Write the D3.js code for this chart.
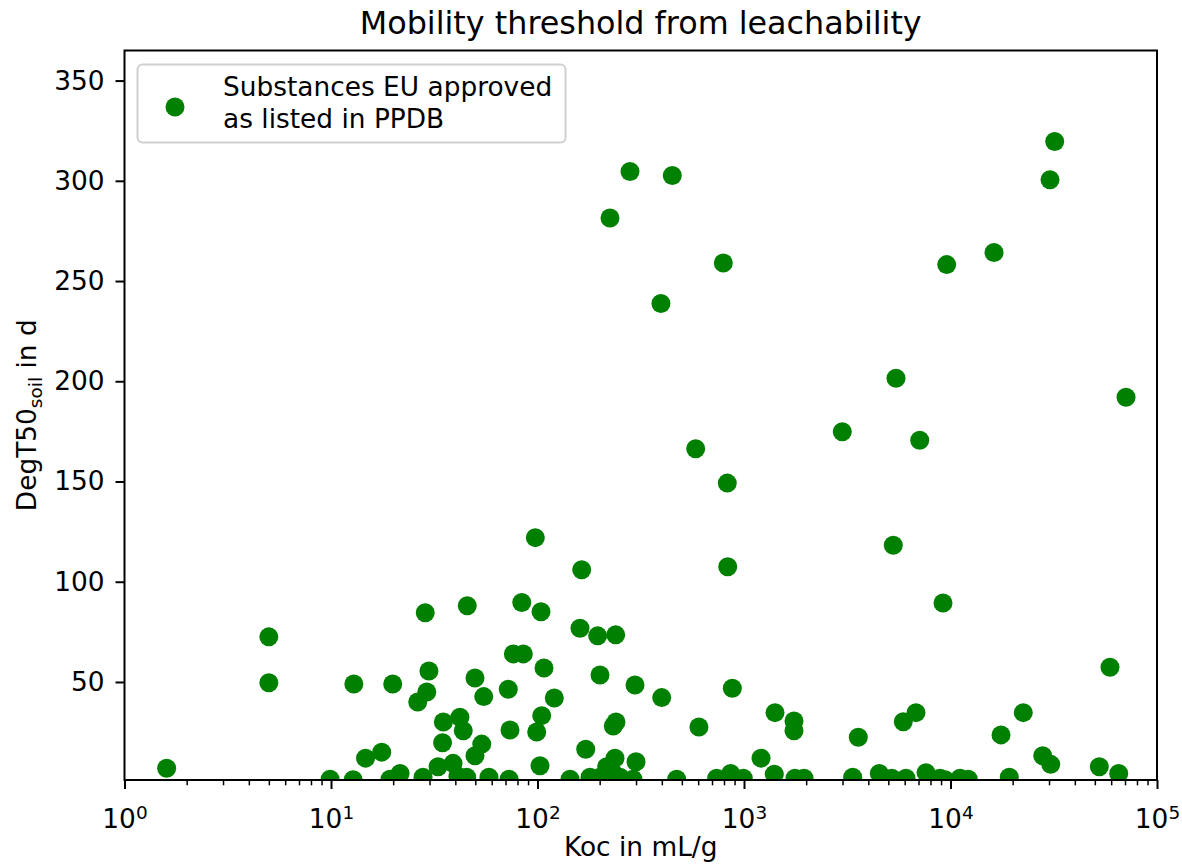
<!DOCTYPE html>
<html>
<head>
<meta charset="utf-8">
<script src="https://cdn.jsdelivr.net/npm/d3@7"></script>
<style>
  body { margin: 0; background: #fff; }
  text { font-family: "DejaVu Sans", sans-serif; fill: #000; }
</style>
</head>
<body>
<div id="vis-holder"></div>
<script>
// Koc (mL/g) and DegT50 soil (d)
const koc = [1.6, 5, 5, 9.9, 12.9, 12.8, 14.7, 17.6, 19.9, 19.3, 21.6, 26.3, 27.9, 28.6, 29.1, 29.8,
  33, 35, 34.7, 39, 41.2, 42.1, 43.7, 45.4, 45.7, 49.8, 49.8, 53.7, 54.9, 58.2, 72.2, 72.8, 73.6,
  76.4, 83.9, 85.4, 97.6, 99.1, 104, 104.8, 102.8, 107.5, 120.6, 143.7, 160.6, 163.7, 171.2, 179.6,
  195.6, 200.7, 200.7, 216.3, 232, 224.4, 232.8, 239.9, 237.3, 239.2, 250.9, 280.5, 290, 296.6, 300,
  396, 399.5, 449.6, 472, 583.5, 605, 737.5, 794, 830, 834, 862, 878, 992, 1209, 1402, 1413, 1746,
  1746, 1766, 1953, 2992, 3360, 3577, 4521, 5192, 5284, 5446, 5906, 6087, 6807, 7096, 7610, 8895,
  9198, 9585, 9407, 11118, 12195, 16245, 17565, 19265, 22513, 27960, 30330, 30570, 31960, 52560,
  59200, 65240, 70790];
const degT50 = [7, 72.5, 49.6, 1.5, 49, 1.2, 12, 15, 49, 1.5, 4.4, 40, 2.5, 84.5, 45, 55.5,
  7.7, 30, 19.7, 9.4, 3, 32.4, 25.7, 2.5, 88, 52, 13.2, 19, 42.7, 2.5, 46.4, 1.5, 26,
  64, 89.6, 64, 122, 25, 85, 33.2, 8.2, 57, 42, 1.5, 76.8, 106, 16.4, 2.5,
  73, 53.5, 2.5, 7.7, 4.6, 281.4, 28, 30, 12, 73.5, 2.5, 304.6, 1.5, 48.5, 10.2,
  238.8, 42.2, 302.6, 1.5, 166.3, 27.5, 2, 259, 149.2, 107.5, 4.4, 46.9, 2, 12, 4, 34.7, 30.5,
  25.7, 2, 2, 174.8, 2.5, 22.4, 4.4, 2, 118.2, 201.5, 30.2, 2, 34.7, 170.6, 4.7, 2,
  89.4, 258.2, 1.2, 2, 1.5, 264.2, 23.6, 2.5, 34.7, 13.2, 300.5, 8.9, 319.6, 7.7,
  57.3, 4.4, 192];

const xDomain = [1, 1e5];
const yDomain = [1.1, 365];
const yTicks = [50, 100, 150, 200, 250, 300, 350];
const xMajor = [1, 10, 100, 1000, 10000, 100000];

const titleText = "Mobility threshold from leachability";
const xLabel = "Koc in mL/g";
const legendLines = ["Substances EU approved", "as listed in PPDB"];

const w = 1182, h = 864;
const pLeft = 124.5, pRight = 1157, pTop = 50.5, pBottom = 780;
const green = "#008000";
const fs = 26.4;

const svg = d3.select("#vis-holder").append("svg")
    .attr("width", w).attr("height", h);

const x = d3.scaleLog().domain(xDomain).range([pLeft, pRight]);
const y = d3.scaleLinear().domain(yDomain).range([pBottom, pTop]);

svg.append("clipPath").attr("id", "plotclip")
    .append("rect").attr("x", pLeft).attr("y", pTop)
    .attr("width", pRight - pLeft).attr("height", pBottom - pTop);

// points
const pts = koc.map((k, i) => ({k: k, d: degT50[i]}));
svg.append("g").attr("clip-path", "url(#plotclip)")
    .selectAll("circle")
    .data(pts)
    .enter()
    .append("circle")
    .attr("cx", d => x(d.k))
    .attr("cy", d => y(d.d))
    .attr("r", 9.5)
    .attr("fill", green);

// minor x ticks
let minor = [];
for (let e = 0; e < 5; e++) {
    for (let m = 2; m < 10; m++) minor.push(m * Math.pow(10, e));
}
svg.append("g")
    .attr("transform", "translate(0," + pBottom + ")")
    .call(d3.axisBottom(x).tickValues(minor).tickSize(5.3).tickFormat(""))
    .call(g => g.select(".domain").remove())
    .selectAll("line").attr("stroke", "#000").attr("stroke-width", 1.5);

// major x ticks
const xAxis = svg.append("g")
    .attr("transform", "translate(0," + pBottom + ")")
    .call(d3.axisBottom(x).tickValues(xMajor).tickSize(9).tickPadding(9).tickFormat(""));
xAxis.select(".domain").remove();
xAxis.selectAll("line").attr("stroke", "#000").attr("stroke-width", 2);
xAxis.selectAll(".tick text")
    .attr("font-size", fs).attr("dy", "1.12em")
    .each(function(d) {
        const t = d3.select(this);
        t.append("tspan").text("10");
        t.append("tspan").attr("dy", "-0.45em").attr("font-size", fs * 0.7)
            .text(Math.round(Math.log10(d)));
    });

// y axis
const yAxis = svg.append("g")
    .attr("transform", "translate(" + pLeft + ",0)")
    .call(d3.axisLeft(y).tickValues(yTicks).tickSize(9).tickPadding(11));
yAxis.select(".domain").remove();
yAxis.selectAll("line").attr("stroke", "#000").attr("stroke-width", 2);
yAxis.selectAll("text").attr("font-size", fs).attr("font-family", "DejaVu Sans");

// frame
svg.append("rect")
    .attr("x", pLeft).attr("y", pTop)
    .attr("width", pRight - pLeft).attr("height", pBottom - pTop)
    .attr("fill", "none").attr("stroke", "#000").attr("stroke-width", 2);

// title and labels
svg.append("text")
    .attr("x", (pLeft + pRight) / 2).attr("y", 34)
    .attr("text-anchor", "middle").attr("font-size", 31.8)
    .text(titleText);

svg.append("text")
    .attr("x", (pLeft + pRight) / 2).attr("y", 856)
    .attr("text-anchor", "middle").attr("font-size", fs)
    .text(xLabel);

const yl = svg.append("text")
    .attr("transform", "translate(36," + ((pTop + pBottom) / 2) + ") rotate(-90)")
    .attr("text-anchor", "middle").attr("font-size", fs);
yl.append("tspan").text("DegT50");
yl.append("tspan").attr("font-size", fs * 0.7).attr("dy", "0.3em").text("soil");
yl.append("tspan").attr("dy", "-0.21em").text(" in d");

// legend
const lg = svg.append("g");
lg.append("rect")
    .attr("x", 137.5).attr("y", 64.5).attr("width", 428).attr("height", 78)
    .attr("rx", 5).attr("fill", "#fff").attr("fill-opacity", 0.8)
    .attr("stroke", "#d0d0d0").attr("stroke-width", 2);
lg.append("circle").attr("cx", 175).attr("cy", 107).attr("r", 9.5).attr("fill", green);
lg.selectAll("text.leg")
    .data(legendLines)
    .enter()
    .append("text")
    .attr("class", "leg")
    .attr("x", 223)
    .attr("y", (d, i) => 96 + i * 32)
    .attr("font-size", fs)
    .text(d => d);
</script>
</body>
</html>
